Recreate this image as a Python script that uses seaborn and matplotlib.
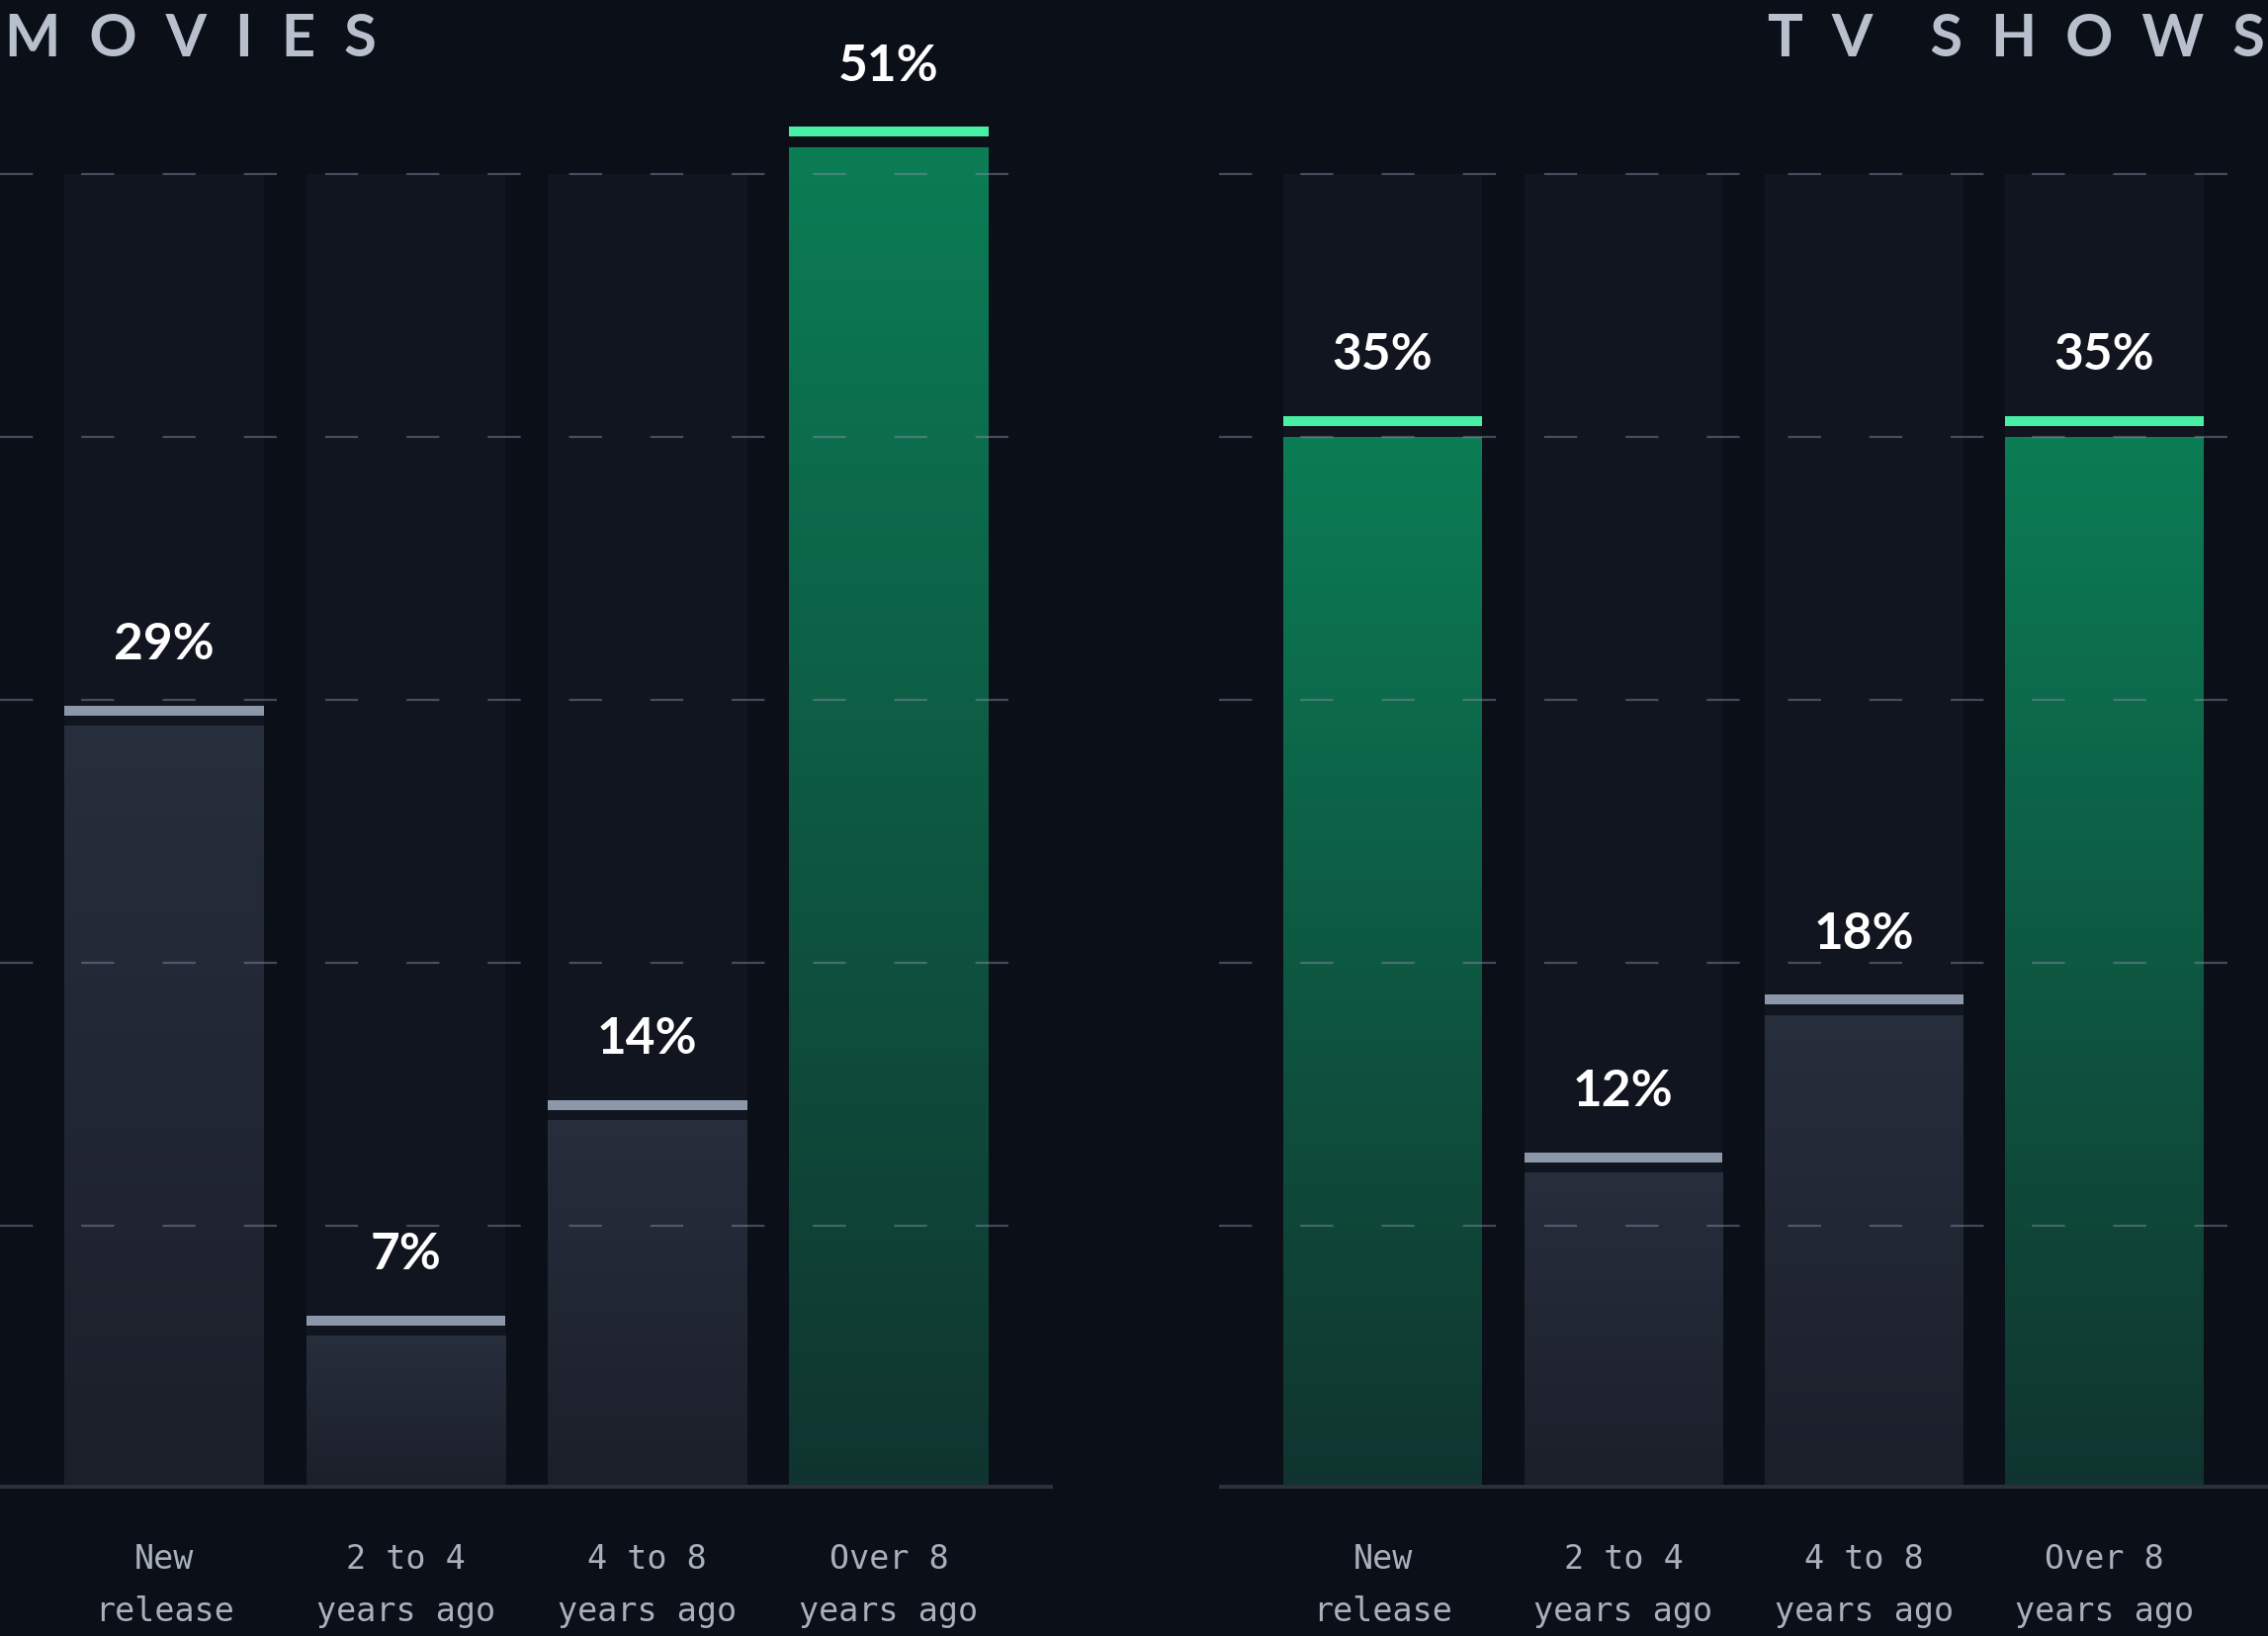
import numpy as np
import matplotlib
import matplotlib.pyplot as plt
from matplotlib.colors import LinearSegmentedColormap
import seaborn as sns

matplotlib.use("Agg")

# data
categories = ["New\nrelease", "2 to 4\nyears ago", "4 to 8\nyears ago", "Over 8\nyears ago"]
movie_height = [29, 5.8, 14, 51]
movie_label = ["29%", "7%", "14%", "51%"]
movie_highlight = [False, False, False, True]
tv_height = [40, 12, 18, 40]
tv_label = ["35%", "12%", "18%", "35%"]
tv_highlight = [True, False, False, True]
grid_values = [10, 20, 30, 40, 50]

BG = "#0b0f18"
COLUMN_BG = "#11151f"
GRID = "#8a93a8"
BASE = "#2b303c"
GRAY_TOP, GRAY_BOTTOM, GRAY_CAP = "#272e3c", "#1b1f2a", "#8d97aa"
GREEN_TOP, GREEN_BOTTOM, GREEN_CAP = "#0b7d55", "#10342f", "#48f0a6"
TITLE_COLOR = "#b9c0cd"
TICK_COLOR = "#a9b0bd"

BAR_W = 0.826
PX = 26.6  # pixels per unit on the y axis
XLIM = (-0.68, 3.68)


def gradient(ax, patch, top, bottom):
    x0, y0 = patch.get_x(), patch.get_y()
    w, h = patch.get_width(), patch.get_height()
    cmap = LinearSegmentedColormap.from_list("g", [bottom, top])
    img = np.linspace(1, 0, 256).reshape(-1, 1)
    ax.imshow(img, cmap=cmap, extent=[x0, x0 + w, y0, y0 + h],
              aspect="auto", origin="upper", zorder=3, interpolation="bicubic")
    patch.set_visible(False)


def panel(ax, heights, labels, highlight):
    sns.barplot(x=list(range(len(heights))), y=heights, width=BAR_W,
                color=GRAY_BOTTOM, saturation=1, linewidth=0, ax=ax, zorder=3)
    bars = list(ax.patches)
    for bar, hi in zip(bars, highlight):
        if hi:
            gradient(ax, bar, GREEN_TOP, GREEN_BOTTOM)
        else:
            gradient(ax, bar, GRAY_TOP, GRAY_BOTTOM)

    x = np.arange(len(heights))
    # column backgrounds
    ax.bar(x, [grid_values[-1]] * len(x), width=BAR_W, color=COLUMN_BG,
           linewidth=0, zorder=0.5)
    # caps above each bar
    caps = [GREEN_CAP if hi else GRAY_CAP for hi in highlight]
    ax.bar(x, 10 / PX, bottom=np.array(heights) + 11 / PX, width=BAR_W,
           color=caps, linewidth=0, zorder=4)
    for xi, h, lab in zip(x, heights, labels):
        ax.text(xi, h + 83 / PX, lab, ha="center", va="center", color="white",
                fontsize=37, fontweight="bold", family="Lato", zorder=8)

    # dashed guides sit on top of everything, semi transparent
    ax.hlines(grid_values, XLIM[0], XLIM[1], colors=GRID, linewidths=1.6,
              alpha=0.45, linestyles=[(0, (15, 22))], zorder=7)
    ax.axhline(0, color=BASE, lw=5.8, zorder=6)

    ax.set_xlim(*XLIM)
    ax.set_ylim(0, 1507 / PX)
    ax.set_facecolor(BG)
    for s in ax.spines.values():
        s.set_visible(False)
    ax.set_yticks([])
    ax.set_xticks(x)
    ax.set_xticklabels(categories, family="DejaVu Sans Mono", fontsize=24,
                       color=TICK_COLOR)
    for t in ax.get_xticklabels():
        t.set_linespacing(1.75)
    ax.tick_params(axis="x", length=0, pad=39)
    ax.set_xlabel("")
    ax.set_ylabel("")


def main():
    sns.set_theme(style="dark")
    plt.rcParams["font.family"] = ["Lato", "DejaVu Sans"]

    fig = plt.figure(figsize=(22.94, 16.56), dpi=100, facecolor=BG)
    ax1 = fig.add_axes([0, 0.09, 0.4643, 0.91])
    ax2 = fig.add_axes([0.5376, 0.09, 0.4624, 0.91])

    panel(ax1, movie_height, movie_label, movie_highlight)
    panel(ax2, tv_height, tv_label, tv_highlight)

    fig.text(0.002, 1 - 57 / 1656, "M  O  V  I  E  S", ha="left", va="baseline",
             color=TITLE_COLOR, fontsize=43, fontweight="bold", family="Lato")
    fig.text(0.9985, 1 - 57 / 1656, "T  V    S  H  O  W  S", ha="right",
             va="baseline", color=TITLE_COLOR, fontsize=43, fontweight="bold",
             family="Lato")

    fig.savefig("out.png", dpi=100, facecolor=BG)


if __name__ == "__main__":
    main()
